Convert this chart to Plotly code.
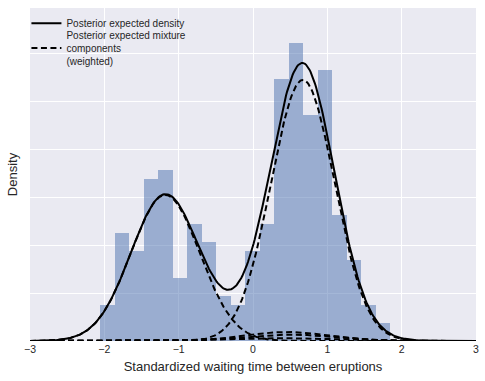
import numpy as np
import plotly.graph_objects as go

# Histogram: 20 bins of standardized waiting time, counts
bin_start = -2.052
bin_width = 0.19493
counts = [4, 12, 10, 18, 19, 7, 13, 11, 5, 4, 10, 13, 29, 33, 25, 30, 14, 9, 4, 2]

# Posterior expected mixture components (estimated from the curves)
comp_means = [-1.18, 0.67, 0.45, 0.50, 0.30]
comp_sds = [0.46, 0.427, 0.55, 0.60, 0.80]
comp_weights = [0.352, 0.584, 0.026, 0.020, 0.012]

x_ticks = [-3, -2, -1, 0, 1, 2, 3]

n_total = sum(counts)
centers = [bin_start + bin_width * (i + 0.5) for i in range(len(counts))]
density = [c / (n_total * bin_width) for c in counts]

xs = np.linspace(-3, 3, 400)


def npdf(x, m, s):
    return np.exp(-0.5 * ((x - m) / s) ** 2) / (s * np.sqrt(2 * np.pi))


comps = [w * npdf(xs, m, s) for m, s, w in zip(comp_means, comp_sds, comp_weights)]
total = np.sum(comps, axis=0)

fig = go.Figure()
fig.add_trace(go.Bar(x=centers, y=density, width=bin_width,
                     marker=dict(color="#4C72B0", line=dict(width=0)),
                     opacity=0.5, showlegend=False))
fig.add_trace(go.Scatter(x=xs, y=total, mode="lines",
                         line=dict(color="black", width=2),
                         name="Posterior expected density", legend="legend"))
for i, c in enumerate(comps):
    fig.add_trace(go.Scatter(x=xs, y=c, mode="lines",
                             line=dict(color="black", width=2, dash="6px,3.5px"),
                             name="Posterior expected mixture<br>components<br>(weighted)",
                             legend="legend2", showlegend=(i == 0)))

font_fam = "Liberation Sans, Arial, sans-serif"
leg_common = dict(x=-0.008, xanchor="left", yanchor="top",
                  bgcolor="rgba(0,0,0,0)", font=dict(size=10),
                  tracegroupgap=0, itemwidth=30)
fig.update_layout(
    width=485, height=381,
    margin=dict(l=30, r=9, t=8, b=40, autoexpand=False),
    paper_bgcolor="white", plot_bgcolor="#EAEAF2",
    font=dict(family=font_fam, size=11, color="#262626"),
    bargap=0,
    legend=dict(y=0.998, **leg_common),
    legend2=dict(y=0.958, **leg_common),
    xaxis=dict(range=[-3, 3], tickvals=x_ticks,
               ticktext=[("\u2212" + str(-t)) if t < 0 else str(t) for t in x_ticks],
               showgrid=True, gridcolor="white", gridwidth=1, zeroline=False,
               showline=False, ticks="", automargin=False, ticklabeloverflow="allow",
               tickfont=dict(size=10.5),
               title=dict(text="Standardized waiting time between eruptions", standoff=8)),
    yaxis=dict(range=[0, 0.696], dtick=0.1, showticklabels=False,
               showgrid=True, gridcolor="white", gridwidth=1, zeroline=False,
               showline=False, ticks="", automargin=False,
               title=dict(text="Density", standoff=8)),
)

fig.write_html("out.html", config={"displayModeBar": False},
               post_script="document.body.style.margin='0';document.body.style.padding='0';")
